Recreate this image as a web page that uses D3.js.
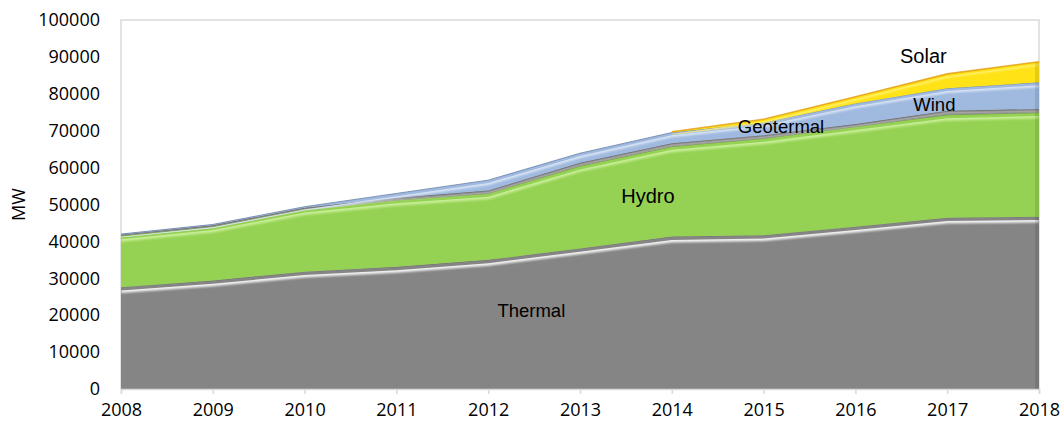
<!DOCTYPE html>
<html>
<head>
<meta charset="utf-8">
<script src="https://cdn.jsdelivr.net/npm/d3@7"></script>
<style>
  body { margin: 0; background: #fff; }
  svg { display: block; }
  .axis text { font-family: "Open Sans", sans-serif; font-size: 18px; fill: #000; }
  .lbl { font-family: "Liberation Sans", Arial, sans-serif; fill: #000; }
</style>
</head>
<body>
<div id="chart"></div>
<script>
// data (MW)
const years = [2008, 2009, 2010, 2011, 2012, 2013, 2014, 2015, 2016, 2017, 2018];
const thermal = [27600, 29400, 31800, 33100, 35000, 38100, 41300, 41700, 44000, 46400, 46700];
const hydro = [13900, 14600, 16900, 18100, 18000, 22300, 24400, 26200, 27100, 27900, 28200];
const geotermal = [300, 350, 400, 600, 800, 900, 900, 900, 700, 1100, 1000];
const wind = [200, 250, 300, 1200, 2800, 2600, 2900, 3400, 5600, 6100, 7200];
const solar = [null, null, null, null, null, null, 200, 900, 1800, 3900, 5600];
const seriesNames = ["Thermal", "Hydro", "Geotermal", "Wind", "Solar"];
const yTicks = [0, 10000, 20000, 30000, 40000, 50000, 60000, 70000, 80000, 90000, 100000];

// label anchors in data space
const labelNames = ["Thermal", "Hydro", "Geotermal", "Wind", "Solar"];
const labelYears = [2012.47, 2013.74, 2015.19, 2016.86, 2016.74];
const labelValues = [21400, 52300, 71000, 77200, 90200];

const svgWidth = 1064, svgHeight = 428;
const margin = { top: 20, right: 25, bottom: 39, left: 121 };
const width = svgWidth - margin.left - margin.right;
const height = svgHeight - margin.top - margin.bottom;

const styles = {
    Thermal:   { fill: "#858585", hi: "#f2f2f2", edge: "#6e6e6e", w: 5 },
    Hydro:     { fill: "#95d253", hi: "#c8ee96", edge: "#5f8f2e", w: 5 },
    Geotermal: { fill: "#8a8a8a", hi: "#c8c8c8", edge: "#5e5e5e", w: 1.5 },
    Wind:      { fill: "#9fb9df", hi: "#dbe6f5", edge: "#6f86aa", w: 4 },
    Solar:     { fill: "#ffe316", hi: "#fff27a", edge: "#e3a11b", w: 3 }
};

const table = years.map((yr, i) => ({
    year: yr,
    Thermal: thermal[i],
    Hydro: hydro[i],
    Geotermal: geotermal[i],
    Wind: wind[i],
    Solar: solar[i] == null ? 0 : solar[i],
    hasSolar: solar[i] != null
}));

const stacked = d3.stack().keys(seriesNames)(table);

const x = d3.scaleLinear().domain([2008, 2018]).range([0, width]);
const y = d3.scaleLinear().domain([0, 100000]).range([height, 0]);

const svg = d3.select("#chart").append("svg")
    .attr("width", svgWidth)
    .attr("height", svgHeight);

const defs = svg.append("defs");
defs.append("filter").attr("id", "soft")
    .append("feGaussianBlur").attr("stdDeviation", 1.2);

const g = svg.append("g").attr("transform", `translate(${margin.left},${margin.top})`);

// plot frame
g.append("rect")
    .attr("x", 0).attr("y", 0)
    .attr("width", width).attr("height", height)
    .attr("fill", "none")
    .attr("stroke", "#d9d9d9")
    .attr("stroke-width", 1.5);

const defined = (name) => (d => name !== "Solar" || d.data.hasSolar);

stacked.forEach(s => {
    const st = styles[s.key];
    const area = d3.area()
        .defined(defined(s.key))
        .x(d => x(d.data.year))
        .y0(d => y(d[0]))
        .y1(d => y(d[1]));
    const top = d3.line()
        .defined(defined(s.key))
        .x(d => x(d.data.year))
        .y(d => y(d[1]));

    const clipId = "clip-" + s.key;
    defs.append("clipPath").attr("id", clipId)
        .append("path").attr("d", area(s));

    const layer = g.append("g").attr("class", "layer");
    layer.append("path")
        .attr("d", area(s))
        .attr("fill", st.fill);

    // bevel highlight along the top edge
    layer.append("path")
        .attr("d", top(s))
        .attr("transform", `translate(0,${st.w / 2 + 0.8})`)
        .attr("fill", "none")
        .attr("stroke", st.hi)
        .attr("stroke-width", st.w)
        .attr("filter", "url(#soft)")
        .attr("clip-path", `url(#${clipId})`);

    // right side shade
    layer.append("rect")
        .attr("x", width - 4).attr("y", 0)
        .attr("width", 4).attr("height", height)
        .attr("fill", "#000").attr("opacity", 0.1)
        .attr("clip-path", `url(#${clipId})`);

    layer.append("path")
        .attr("d", top(s))
        .attr("fill", "none")
        .attr("stroke", st.edge)
        .attr("stroke-width", s.key === "Solar" ? 1.6 : 1)
        .attr("opacity", 0.85);
});

// x axis
const xAxis = g.append("g")
    .attr("class", "axis")
    .attr("transform", `translate(0,${height})`)
    .call(d3.axisBottom(x).tickValues(years).tickFormat(d3.format("d")).tickSize(5).tickPadding(9));
xAxis.select(".domain").attr("stroke", "#d9d9d9").attr("stroke-width", 1.5);
xAxis.selectAll(".tick line").attr("stroke", "#d9d9d9").attr("stroke-width", 1.5);

// y axis
const yAxis = g.append("g")
    .attr("class", "axis")
    .call(d3.axisLeft(y).tickValues(yTicks).tickFormat(d3.format("d")).tickSize(0).tickPadding(21));
yAxis.select(".domain").remove();

// y title
svg.append("text")
    .attr("transform", `translate(19,${margin.top + y(50000)}) rotate(-90)`)
    .attr("text-anchor", "middle")
    .attr("dy", "0.35em")
    .style("font-family", "Open Sans, sans-serif")
    .style("font-size", "18px")
    .text("MW");

// series labels
g.selectAll(".lbl")
    .data(labelNames)
    .enter().append("text")
    .attr("class", "lbl")
    .attr("x", (d, i) => x(labelYears[i]))
    .attr("y", (d, i) => y(labelValues[i]))
    .attr("dy", "0.35em")
    .attr("text-anchor", "middle")
    .style("font-size", d => (d === "Hydro" || d === "Solar") ? "20px" : "18.5px")
    .text(d => d);
</script>
</body>
</html>
